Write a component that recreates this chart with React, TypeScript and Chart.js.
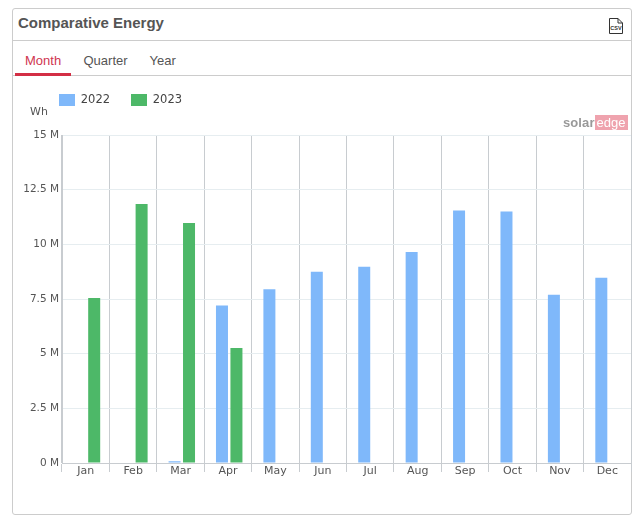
import React, { useEffect, useRef } from "react";
import { Chart, registerables } from "chart.js";

Chart.register(...registerables);

const categories = ["Jan", "Feb", "Mar", "Apr", "May", "Jun", "Jul", "Aug", "Sep", "Oct", "Nov", "Dec"];
const values2022 = [null, null, 80000, 7200000, 7950000, 8750000, 8970000, 9650000, 11550000, 11500000, 7700000, 8470000];
const values2023 = [7550000, 11850000, 10970000, 5260000, null, null, null, null, null, null, null, null];
const yTicks = ["0 M", "2.5 M", "5 M", "7.5 M", "10 M", "12.5 M", "15 M"];
const tabs = ["Month", "Quarter", "Year"];

const FONT = '"DejaVu Sans", sans-serif';
const HEAD = '"Liberation Sans", Arial, sans-serif';

const layoutTweaks = {
  id: "layoutTweaks",
  beforeDraw(chart: any) {
    chart.legend.top = 73;
    chart.legend.left = 38;
  },
  afterDraw(chart: any) {
    const { ctx } = chart;
    ctx.save();
    ctx.font = `11px ${FONT}`;
    ctx.fillStyle = "#555";
    ctx.textAlign = "left";
    ctx.textBaseline = "middle";
    ctx.fillText("Wh", 30, 112);
    ctx.restore();
  },
  beforeDatasetsDraw(chart: any) {
    chart.ctx.save();
    chart.ctx.translate(1.25, 0);
  },
  afterDatasetsDraw(chart: any) {
    chart.ctx.restore();
  },
};

export default function App() {
  const ref = useRef<HTMLCanvasElement>(null);
  useEffect(() => {
    const chart = new Chart(ref.current!, {
      type: "bar",
      data: {
        labels: categories,
        datasets: [
          { label: "2022", data: values2022, backgroundColor: "#7FB8FA" },
          { label: "2023", data: values2023, backgroundColor: "#4DB868" },
        ],
      },
      options: {
        animation: false,
        responsive: false,
        layout: { padding: { left: 20, top: 92, right: 11, bottom: 32 } },
        datasets: { bar: { categoryPercentage: 0.61, barPercentage: 0.83 } },
        plugins: {
          title: { display: false },
          tooltip: { enabled: false },
          legend: {
            position: "top",
            align: "start",
            labels: {
              boxWidth: 16,
              boxHeight: 12,
              padding: 21,
              color: "#444",
              font: { family: FONT, size: 11.5 },
            },
          },
        },
        scales: {
          x: {
            afterFit(s: any) { s.height = 20; },
            grid: { color: "#C8CCD0", tickLength: 9, drawOnChartArea: true },
            border: { color: "#C8CCD0" },
            ticks: { color: "#555", padding: -7, font: { family: FONT, size: 11 }, maxRotation: 0 },
          },
          y: {
            min: 0,
            max: 15000000,
            afterFit(s: any) { s.width = 42; },
            grid: { color: "#E6EDF0", drawTicks: false },
            border: { color: "#C8CCD0" },
            afterBuildTicks(s: any) {
              s.ticks = yTicks.map((_, i) => ({ value: i * 2500000 }));
            },
            ticks: {
              color: "#555",
              padding: 3,
              font: { family: FONT, size: 10.5 },
              callback: (_v: any, i: number) => yTicks[i],
            },
          },
        },
      },
      plugins: [layoutTweaks],
    } as any);
    return () => chart.destroy();
  }, []);

  return (
    <div style={{ position: "absolute", left: 0, top: 0, width: 642, height: 515, background: "#fff", overflow: "hidden" }}>
      <div style={{ position: "absolute", left: 12, top: 8, width: 618, height: 505, border: "1px solid #ccc", borderRadius: 3 }} />
      <div style={{ position: "absolute", left: 18, top: 14, font: `bold 15px ${HEAD}`, color: "#555" }}>Comparative Energy</div>
      <svg style={{ position: "absolute", left: 609, top: 18 }} width="14" height="16" viewBox="0 0 14 16">
        <path d="M0.5 0.5H9L13.5 5V15.5H0.5Z M9 0.5V5H13.5" fill="none" stroke="#333" strokeWidth="1" />
        <text x="7" y="12" textAnchor="middle" fontSize="5.5" fontWeight="bold" fontFamily="Liberation Sans" fill="#333">CSV</text>
      </svg>
      <div style={{ position: "absolute", left: 12, top: 40, width: 620, height: 1, background: "#ccc" }} />
      <div style={{ position: "absolute", left: 12, top: 75, width: 620, height: 1, background: "#ccc" }} />
      <div style={{ position: "absolute", left: 15, top: 73, width: 56, height: 3, background: "#D32F45" }} />
      {tabs.map((t, i) => (
        <div key={t} style={{ position: "absolute", left: [25, 83.5, 149.5][i], top: 53, font: `13px "Liberation Sans", Arial, sans-serif`, color: i === 0 ? "#D0354F" : "#555" }}>{t}</div>
      ))}
      <canvas ref={ref} width={642} height={515} style={{ position: "absolute", left: 0, top: 0, display: "block" }} />
      <div style={{ position: "absolute", left: 563, top: 115, height: 15, color: "#999", whiteSpace: "nowrap", display: "flex", alignItems: "center" }}>
        <span style={{ font: `bold 13px ${HEAD}`, letterSpacing: 0.1 }}>solar</span>
        <span style={{ background: "#EFA3AE", color: "#fff", font: `13px ${HEAD}`, padding: "0 2px", letterSpacing: 0 }}>edge</span>
      </div>
    </div>
  );
}
